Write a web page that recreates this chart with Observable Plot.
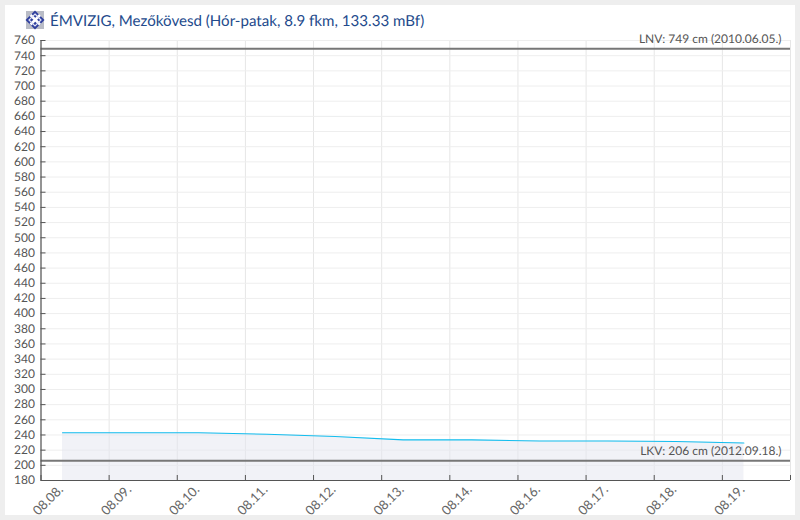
<!DOCTYPE html>
<html lang="hu">
<head>
<meta charset="utf-8">
<title>ÉMVIZIG, Mezőkövesd</title>
<script src="https://cdn.jsdelivr.net/npm/d3@7"></script>
<script src="https://cdn.jsdelivr.net/npm/@observablehq/plot@0.6"></script>
<style>
  html, body { margin: 0; padding: 0; background: #eeeeee; }
  #card { position: absolute; left: 5px; top: 5px; width: 790px; height: 510px; background: #fff; }
  #chart { position: absolute; left: 0; top: 0; }
  #title { position: absolute; left: 50px; top: 11px; font: 15.1px/20px Lato, sans-serif; color: #234a8c; white-space: nowrap; text-rendering: geometricPrecision; }
  #logo { position: absolute; left: 25px; top: 10px; }
  svg { background: transparent !important; }
  #chart text { text-rendering: geometricPrecision; }
</style>
</head>
<body>
<div id="card"></div>
<div id="chart"></div>
<svg id="logo" width="20" height="20" viewBox="0 0 20 20">
  <rect x="1" y="1" width="18" height="18" fill="#b9bcc6"/>
  <path d="M10 0.5 L19.5 10 L10 19.5 L0.5 10 Z" fill="#2f3f9e"/>
  <path d="M5.5 5 L15 14.5 M15 5 L5.5 14.5" stroke="#fff" stroke-width="2.6"/>
  <path d="M10 4 L16 10 L10 16 L4 10 Z" fill="none" stroke="#dfe3f5" stroke-width="1.2"/>
</svg>
<div id="title">ÉMVIZIG, Mezőkövesd (Hór-patak, 8.9 fkm, 133.33 mBf)</div>
<script>
const days = ["08.08.", "08.09.", "08.10.", "08.11.", "08.12.", "08.13.", "08.14.", "08.16.", "08.17.", "08.18.", "08.19."];
const levels = [243, 243, 243, 241, 238, 233.5, 233.5, 232, 232, 231.5, 229.5];
const readingOffset = 0.316; // reading time within each day column
const records = [
  { value: 749, label: "LNV: 749 cm (2010.06.05.)" },
  { value: 206, label: "LKV: 206 cm (2012.09.18.)" }
];
const yTicks = d3.range(180, 761, 20);
const xTicks = d3.range(0, days.length + 1);
const series = days.map((d, i) => ({ pos: i + readingOffset, level: levels[i] }));

const plot = Plot.plot({
  width: 800,
  height: 520,
  marginLeft: 40.5,
  marginRight: 10,
  marginTop: 40,
  marginBottom: 40,
  style: { fontFamily: "Lato, sans-serif", fontSize: "12px", color: "#555", background: "transparent" },
  x: { type: "linear", domain: [0, days.length], label: null },
  y: { domain: [180, 760], label: null },
  marks: [
    Plot.gridX(xTicks, { stroke: "#e6e6e6", strokeOpacity: 1 }),
    Plot.gridY(yTicks, { stroke: "#eeeeee", strokeOpacity: 1 }),
    Plot.areaY(series, { x: "pos", y1: 180, y2: "level", fill: "#e3e6f0", fillOpacity: 0.5 }),
    Plot.line(series, { x: "pos", y: "level", stroke: "#12bdee", strokeWidth: 1.1 }),
    Plot.ruleY(records, { y: "value", stroke: "#777", strokeWidth: 2 }),
    Plot.text(records, { text: "label", x: days.length, y: "value", dx: -9, dy: -9.5, textAnchor: "end", fill: "#555", fontSize: 12 }),
    Plot.ruleX([0], { stroke: "#555", strokeWidth: 1.2 }),
    Plot.ruleY([180], { stroke: "#555", strokeWidth: 1.2 }),
    Plot.axisY({ ticks: yTicks, anchor: "left", tickSize: -5, tickPadding: 11, stroke: "#555", fill: "#555", fontSize: 12, label: null }),
    Plot.axisX({ ticks: xTicks, anchor: "bottom", tickSize: -5, tickFormat: () => "", stroke: "#555", label: null }),
    Plot.axisX({ ticks: xTicks.slice(0, days.length), anchor: "bottom", tickSize: 0, tickPadding: 7, tickFormat: i => days[i], tickRotate: -45, textAnchor: "end", dx: 20, fill: "#666", fontSize: 13, label: null })
  ]
});
document.getElementById("chart").appendChild(plot);
</script>
</body>
</html>
